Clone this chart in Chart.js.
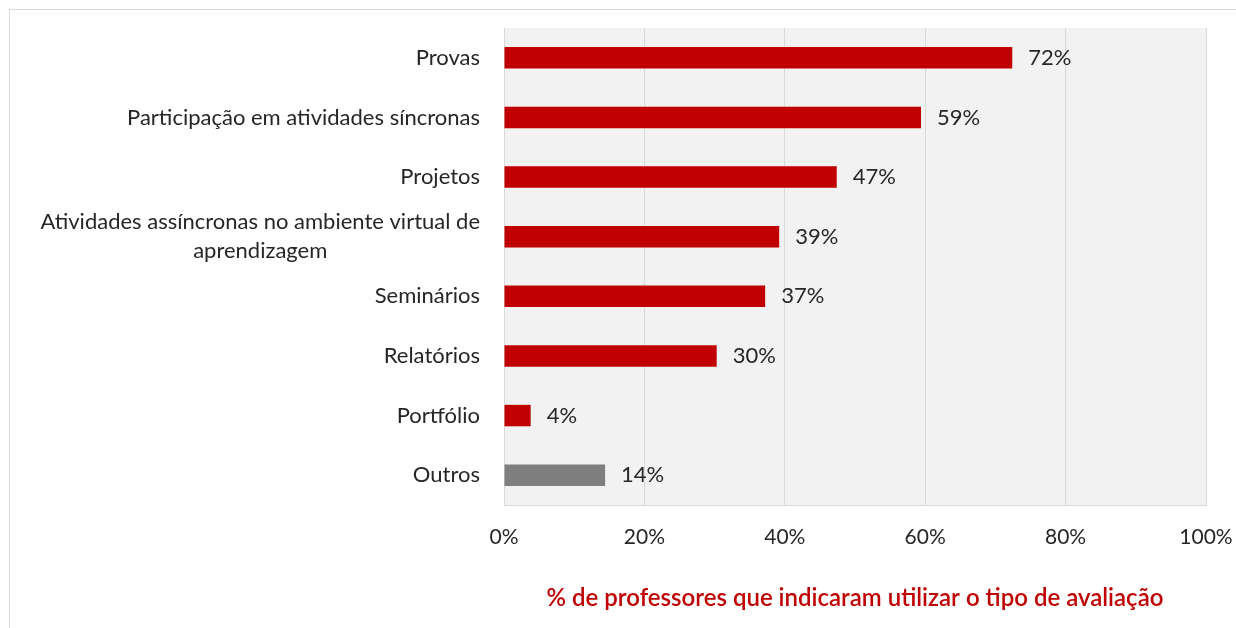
<!DOCTYPE html>
<html>
<head>
<meta charset="utf-8">
<script src="https://cdn.jsdelivr.net/npm/chart.js@4.4.1/dist/chart.umd.min.js"></script>
<style>
  html, body { margin: 0; padding: 0; background: #fff; }
  body { width: 1236px; height: 628px; position: relative; overflow: hidden; }
  #frame { position: absolute; left: 9px; top: 9px; width: 1400px; height: 800px; border: 1px solid #d9d9d9; box-sizing: border-box; }
  #c { position: absolute; left: 0; top: 0; }
</style>
</head>
<body>
<div id="frame"></div>
<canvas id="c" width="1236" height="628"></canvas>
<script>
const categories = [
  ["Provas"],
  ["Participação em atividades síncronas"],
  ["Projetos"],
  ["Atividades assíncronas no ambiente virtual de", "aprendizagem"],
  ["Seminários"],
  ["Relatórios"],
  ["Portfólio"],
  ["Outros"]
];
const values = [72.4, 59.4, 47.4, 39.2, 37.2, 30.3, 3.8, 14.4];
const xTicks = [0, 20, 40, 60, 80, 100];
const axisTitle = "% de professores que indicaram utilizar o tipo de avaliação";

const FONT = "Lato, 'Open Sans', sans-serif";
const TEXT = "#262626";
const barColors = values.map((v, i) => categories[i][0] === "Outros" ? "#7f7f7f" : "#c00000");

const plotBg = {
  id: 'plotBg',
  beforeDraw(chart) {
    const { ctx, chartArea: a } = chart;
    ctx.save();
    ctx.fillStyle = '#f2f2f2';
    ctx.fillRect(a.left, a.top, a.right - a.left, a.bottom - a.top);
    ctx.restore();
  }
};

const yLabels = {
  id: 'yLabels',
  afterDraw(chart) {
    const { ctx } = chart;
    const y = chart.scales.y;
    ctx.save();
    ctx.font = "22px " + FONT;
    ctx.fillStyle = TEXT;
    ctx.textAlign = 'center';
    ctx.textBaseline = 'middle';
    const lh = 29;
    categories.forEach((lines, i) => {
      const cy = y.getPixelForValue(i);
      const w = Math.max(...lines.map(l => ctx.measureText(l).width));
      const cx = chart.chartArea.left - 24 - w / 2;
      lines.forEach((l, j) => {
        ctx.fillText(l, cx, cy + (j - (lines.length - 1) / 2) * lh);
      });
    });
    ctx.restore();
  }
};

const dataLabels = {
  id: 'dataLabels',
  afterDatasetsDraw(chart) {
    const { ctx } = chart;
    const meta = chart.getDatasetMeta(0);
    ctx.save();
    ctx.font = "22px " + FONT;
    ctx.fillStyle = TEXT;
    ctx.textAlign = 'left';
    ctx.textBaseline = 'middle';
    meta.data.forEach((bar, i) => {
      ctx.fillText(Math.round(values[i]) + '%', bar.x + 16, bar.y);
    });
    ctx.restore();
  }
};

new Chart(document.getElementById('c'), {
  type: 'bar',
  data: {
    labels: categories.map(l => l.join(' ')),
    datasets: [{
      data: values,
      backgroundColor: barColors,
      borderWidth: 0,
      categoryPercentage: 1,
      barPercentage: 0.36
    }]
  },
  options: {
    indexAxis: 'y',
    responsive: false,
    animation: false,
    devicePixelRatio: 1,
    layout: { padding: { top: 28, right: 30, left: 0, bottom: 0 } },
    plugins: { legend: { display: false }, tooltip: { enabled: false } },
    scales: {
      x: {
        min: 0, max: 100,
        afterBuildTicks(s) { s.ticks = xTicks.map(v => ({ value: v })); },
        afterFit(s) { s.height = 123; s.paddingLeft = 0; s.paddingRight = 0; },
        grid: { color: '#d9d9d9', drawTicks: false },
        border: { display: true, color: '#d9d9d9' },
        ticks: {
          padding: 20,
          color: TEXT,
          font: { family: FONT, size: 21 },
          callback: v => v + '%'
        },
        title: {
          display: true,
          text: axisTitle,
          color: '#c00000',
          font: { family: FONT, size: 24, weight: '600' },
          padding: { top: 0, bottom: 15 }
        }
      },
      y: {
        afterFit(s) { s.width = 504; },
        grid: { display: false },
        border: { display: false },
        ticks: { display: false }
      }
    }
  },
  plugins: [plotBg, yLabels, dataLabels]
});
</script>
</body>
</html>
